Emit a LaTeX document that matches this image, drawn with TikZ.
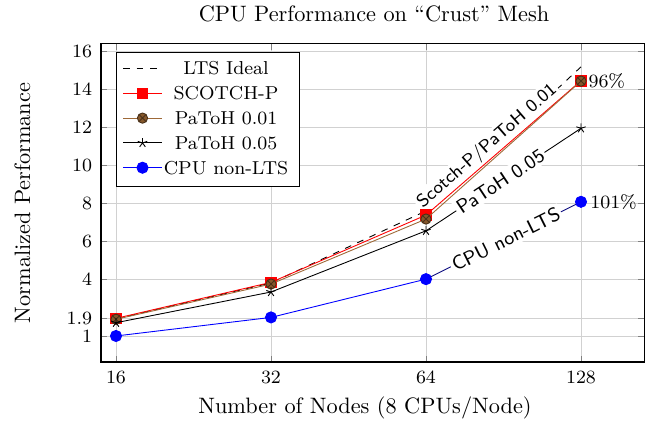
\documentclass[tikz,border=0pt]{standalone}
\usetikzlibrary{plotmarks}
\definecolor{mybrown}{rgb}{0.62,0.41,0.22}
\definecolor{markbrown}{rgb}{0.52,0.34,0.17}
\definecolor{cpunavy}{rgb}{0.05,0.05,0.5}
\begin{document}
\begin{tikzpicture}[x=0.4484pt, y=-0.4484pt,
  gridline/.style={black!18, line width=0.4pt},
  tickmark/.style={black!50, line width=0.4pt},
  axisframe/.style={black, line width=0.5pt},
  ticklbl/.style={inner sep=0pt, font=\fontsize{8.4}{10}\selectfont},
  lbl/.style={inner sep=0pt, font=\fontsize{10}{12}\selectfont},
  ideal/.style={black, line width=0.4pt, dashed},
  scotch/.style={red, line width=0.4pt, mark=square*, mark size=2.4pt, mark options={solid, fill=red, draw=red}},
  patohA/.style={mybrown, line width=0.4pt, mark=otimes*, mark size=2.3pt, mark options={solid, fill=markbrown, draw=markbrown!55!black}},
  patohB/.style={black, line width=0.4pt, mark=star, mark size=2.2pt, mark options={solid}},
  cpu/.style={blue, line width=0.4pt, mark=*, mark size=2.5pt, mark options={solid, fill=blue, draw=blue}},
  onlymid/.style={mark phase=2, mark repeat=3},
  slopelbl/.style={sloped, fill=white, inner sep=1pt, font=\sffamily\fontsize{8.8}{10}\selectfont}
]
\useasboundingbox (0,0) rectangle (657,428);

\begin{scope}[shift={(52.01pt,-159.14pt)}, x=69.50pt, y=8.497pt]
  % grid
  \foreach \k in {0,1,2,3} \draw[gridline] (\k,-0.375) -- (\k,16.43);
  \foreach \v in {1,1.9,4,6,8,10,12,14,16} \draw[gridline] (-0.0968,\v) -- (3.4097,\v);
  % ticks
  \foreach \k in {0,1,2,3} {
    \draw[tickmark] (\k,-0.375) -- ++(0,0.332);
    \draw[tickmark] (\k,16.43) -- ++(0,-0.332);
  }
  \foreach \v in {1,1.9,4,6,8,10,12,14,16} {
    \draw[tickmark] (-0.0968,\v) -- ++(0.0406,0);
    \draw[tickmark] (3.4097,\v) -- ++(-0.0406,0);
  }
  \draw[axisframe] (-0.0968,-0.375) rectangle (3.4097,16.43);
  % tick labels
  \foreach \v [count=\i] in {1,1.9,4,6,8,10,12,14,16}
    \node[ticklbl, anchor=east] (yt\i) at (-0.1516,\v) {\v};
  \foreach \k/\n in {0/16,1/32,2/64,3/128}
    \node[ticklbl] (xt\k) at (\k,-1.19) {\n};
  % data
  \coordinate (i1) at (0,1.9);  \coordinate (i2) at (1,3.8);  \coordinate (i3) at (2,7.6);  \coordinate (i4) at (3,15.2);
  \coordinate (s1) at (0,1.93); \coordinate (s2) at (1,3.83); \coordinate (s3) at (2,7.38); \coordinate (s4) at (3,14.47);
  \coordinate (a1) at (0,1.88); \coordinate (a2) at (1,3.74); \coordinate (a3) at (2,7.17); \coordinate (a4) at (3,14.45);
  \coordinate (b1) at (0,1.70); \coordinate (b2) at (1,3.32); \coordinate (b3) at (2,6.55); \coordinate (b4) at (3,11.96);
  \coordinate (c1) at (0,1);    \coordinate (c2) at (1,1.98); \coordinate (c3) at (2,4);    \coordinate (c4) at (3,8.08);
\end{scope}

% series
\draw[ideal] plot coordinates {(i1) (i2) (i3) (i4)};
\path (s3) -- (s4) node[slopelbl, pos=0.445, above, inner sep=1pt, font=\sffamily\fontsize{8.1}{9}\selectfont] (lblA) {Scotch-P/PaToH 0.01};
\draw[scotch] plot coordinates {(s1) (s2) (s3) (s4)};
\draw[patohA] plot coordinates {(a1) (a2) (a3) (a4)};
\draw[patohB] plot coordinates {(b1) (b2) (b3) (b4)};
\path (b3) -- (b4) node[slopelbl, pos=0.48] (lblB) {PaToH 0.05};
\draw[blue, line width=0.4pt] (c1) -- (c2) -- (c3);
\draw[cpunavy, line width=0.4pt] (c3) -- (c4);
\draw[cpu, only marks] plot coordinates {(c1) (c2) (c3) (c4)};
\path (c3) -- (c4) node[slopelbl, pos=0.515] (lblC) {CPU non-LTS};

\node[ticklbl, anchor=west, xshift=3.2pt] (p96) at (s4) {96\%};
\node[ticklbl, anchor=west, xshift=4pt] (p101) at (c4) {101\%};

% legend
\node[draw=black, fill=white, line width=0.5pt, anchor=north west, minimum width=82.2pt, minimum height=60.2pt, inner sep=0pt] (legend) at (116,51.5) {};
\coordinate (L1a) at (123.3,68.5);  \coordinate (L1b) at (161.7,68.5);
\coordinate (L2a) at (123.3,93.3);  \coordinate (L2m) at (142.5,93.3);  \coordinate (L2b) at (161.7,93.3);
\coordinate (L3a) at (123.3,118.1); \coordinate (L3m) at (142.5,118.1); \coordinate (L3b) at (161.7,118.1);
\coordinate (L4a) at (123.3,142.9); \coordinate (L4m) at (142.5,142.9); \coordinate (L4b) at (161.7,142.9);
\coordinate (L5a) at (123.3,167.7); \coordinate (L5m) at (142.5,167.7); \coordinate (L5b) at (161.7,167.7);
\draw[ideal] (L1a) -- (L1b);
\draw[scotch, onlymid] plot coordinates {(L2a) (L2m) (L2b)};
\draw[patohA, onlymid] plot coordinates {(L3a) (L3m) (L3b)};
\draw[patohB, onlymid] plot coordinates {(L4a) (L4m) (L4b)};
\draw[cpu, onlymid] plot coordinates {(L5a) (L5m) (L5b)};
\node[ticklbl] (L1t) at (226,68.5) {LTS Ideal};
\node[ticklbl] (L2t) at (226,93.3) {SCOTCH-P};
\node[ticklbl] (L3t) at (226,118.1) {PaToH 0.01};
\node[ticklbl] (L4t) at (226,142.9) {PaToH 0.05};
\node[ticklbl] (L5t) at (226,167.7) {CPU non-LTS};

% titles
\node[lbl, anchor=base] (title) at (374,21) {CPU Performance on “Crust” Mesh};
\node[lbl, anchor=base] (xlabel) at (365,413) {Number of Nodes (8 CPUs/Node)};
\node[lbl, anchor=base, rotate=90] (ylabel) at (30,203) {Normalized Performance};
\end{tikzpicture}
\end{document}
